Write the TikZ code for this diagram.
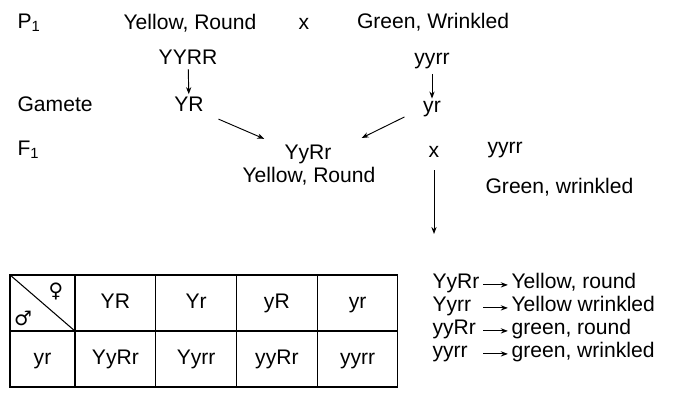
\documentclass[tikz,border=0pt]{standalone}
\usepackage{fontspec}
\setmainfont{Liberation Sans}
\newfontfamily\symfont{DejaVu Sans}
\usetikzlibrary{arrows.meta,positioning}

\begin{document}
\begin{tikzpicture}[
  x=0.03cm, y=-0.03cm,
  font=\fontsize{18}{21}\selectfont, >={Stealth[length=6pt,width=4.5pt]},
  every node/.append style={inner sep=2pt},
  lbl/.style={anchor=west},
  arr/.style={->, line width=0.8pt},
  cell/.style={draw, line width=0.9pt, minimum height=1.68cm, minimum width=2.42cm,
    text height=12.5pt, text depth=3.5pt},
  sym/.style={font=\symfont\fontsize{17}{19}\selectfont},
]
\useasboundingbox (0,0) rectangle (675,399);
% parents
\node[lbl] (p1) at (15,23) {P\textsubscript{1}};
\node (pyel) at (190,23) {Yellow, Round};
\node (px) at (304,24) {x};
\node (pgrn) at (433,22) {Green, Wrinkled};
\node (pYYRR) at (188,57) {YYRR};
\node (pyyrr) at (432,61) {yyrr};
% gametes
\node[lbl] (gam) at (15,104) {Gamete};
\node (gYR) at (189,104) {YR};
\node (gyr) at (432,109) {yr};
\draw[arr, shorten <=2pt] (pYYRR) -- (gYR);
\draw[arr, shorten <=2pt] (pyyrr) -- (gyr);
% F1
\node[lbl] (f1lbl) at (15,150) {F\textsubscript{1}};
\node (f1) at (308,154) {YyRr};
\node (f1ph) at (309,176) {Yellow, Round};
\draw[arr, shorten <=4mm] (gYR.south east) -- ++(58,25);
\draw[arr, shorten <=5.4mm] (gyr.west) -- ++(-59,29);
\node (fx) at (434,152) {x};
\node[lbl] (tyyrr) at (485,150) {yyrr};
\node[lbl] (tgrn) at (483,187) {Green, wrinkled};
\coordinate (cross) at (434,234);
\draw[arr, shorten <=3mm] (fx.south) -- (cross);
% checkerboard
\node[cell, minimum width=1.95cm] (corner) at (42.5,303) {};
\draw[line width=0.9pt] (corner.north west) -- (corner.south east);
\node[sym] (fem) at (56,291) {♀};
\node[sym] (male) at (23,318) {♂};
\foreach \g [count=\i] in {YR,Yr,yR,yr}
  \node[cell] (g\i) at ({75+80.75*(\i-0.5)},303) {\g};
\node[cell, minimum width=1.95cm] (m1) at (42.5,359) {yr};
\foreach \o [count=\i] in {YyRr,Yyrr,yyRr,yyrr}
  \node[cell] (o\i) at ({75+80.75*(\i-0.5)},359) {\o};
% phenotypes
\foreach \gt/\ph [count=\i] in {YyRr/{Yellow, round},Yyrr/{Yellow wrinkled},yyRr/{green, round},yyrr/{green, wrinkled}}{
  \node[anchor=base west, text width=1.45cm] (gt\i) at (430,{288+23*(\i-1)}) {\gt};
  \node[anchor=base west] (ph\i) at (509,{288+23*(\i-1)}) {\ph};
  \draw[arr, shorten >=1pt] (gt\i.mid east) -- (ph\i.mid west);
}
\end{tikzpicture}
\end{document}
